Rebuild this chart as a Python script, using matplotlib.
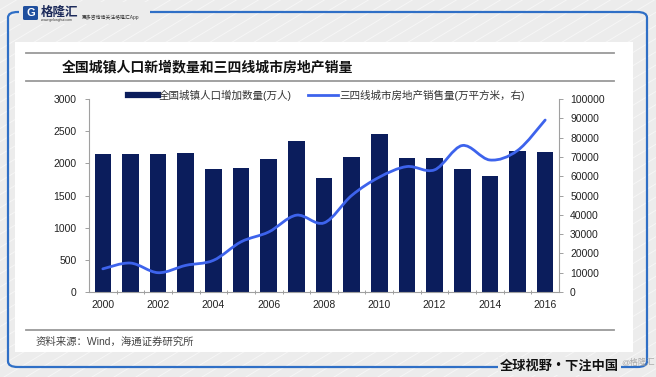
import matplotlib
matplotlib.use('Agg')
import matplotlib.pyplot as plt
import numpy as np
from matplotlib.path import Path
from matplotlib.patches import PathPatch, Rectangle, FancyBboxPatch
from matplotlib.lines import Line2D

plt.rcParams['font.family'] = ['Liberation Sans', 'Noto Sans CJK SC', 'DejaVu Sans']

# ---------------- data ----------------
years = list(range(2000, 2017))
tick_years = years[::2]
urban_pop_increase = [2150, 2150, 2140, 2160, 1910, 1930, 2070, 2350, 1770, 2100,
                      2460, 2090, 2090, 1910, 1800, 2190, 2170]
sales_area = [12000, 15000, 10000, 13800, 16400, 26000, 31100, 39800, 35800, 50000,
              59500, 65000, 63300, 75900, 68400, 73300, 89100]
left_ticks = [0, 500, 1000, 1500, 2000, 2500, 3000]
right_ticks = list(range(0, 100001, 10000))

title = '全国城镇人口新增数量和三四线城市房地产销量'
legend_bar = '全国城镇人口增加数量(万人)'
legend_line = '三四线城市房地产销售量(万平方米，右)'
source = '资料来源：Wind，海通证券研究所'
slogan = '全球视野・下注中国'

BAR_C = '#0b1d5c'
LINE_C = '#3d63ec'
FRAME_C = '#2f6fc6'
BG_C = '#ececec'

W, H = 656, 377
fig = plt.figure(figsize=(6.56, 3.77), dpi=100)
fig.patch.set_facecolor(BG_C)

def fx(x):
    return x / W

def fy(y):
    return 1 - y / H

# background diagonal stripes
for x0 in np.arange(-700, 700, 22):
    fig.add_artist(Line2D([fx(x0), fx(x0 + 377 / 0.6)], [fy(377), fy(0)],
                          color='white', lw=0.7, alpha=0.55, zorder=0))

# frame
frame = FancyBboxPatch((fx(8), fy(367)), fx(647) - fx(8), fy(12) - fy(367),
                       boxstyle='round,pad=0,rounding_size=0.015',
                       transform=fig.transFigure, fill=False,
                       edgecolor=FRAME_C, lw=1.6, zorder=1)
fig.add_artist(frame)

# white panel
fig.add_artist(Rectangle((fx(15), fy(352)), fx(633) - fx(15), fy(42) - fy(352),
                         transform=fig.transFigure, facecolor='white',
                         edgecolor='none', zorder=1))

# header logo area (cover frame)
fig.add_artist(Rectangle((fx(19), fy(24)), fx(150) - fx(19), fy(2) - fy(24),
                         transform=fig.transFigure, facecolor=BG_C,
                         edgecolor='none', zorder=2))
fig.add_artist(FancyBboxPatch((fx(23), fy(20)), fx(15), fy(0) - fy(14),
                              boxstyle='round,pad=0,rounding_size=0.003',
                              transform=fig.transFigure, facecolor='#1f4f9e',
                              edgecolor='none', zorder=3))
fig.text(fx(30.5), fy(13.5), 'G', color='white', fontsize=8, fontweight='bold',
         ha='center', va='center', zorder=4)
fig.text(fx(41), fy(12), '格隆汇', color='#1c2a5a', fontsize=9, fontweight='bold',
         ha='left', va='center', zorder=4, family=['Noto Sans CJK SC'])
fig.text(fx(41), fy(20.5), 'www.gelonghui.com', color='#333', fontsize=2.5,
         ha='left', va='center', zorder=4)
fig.text(fx(82), fy(17), '更多咨询请关注格隆汇App', color='#333', fontsize=3.5,
         ha='left', va='center', zorder=4)

# title and separator lines
for yy in (53, 81, 330):
    fig.add_artist(Line2D([fx(26), fx(614)], [fy(yy), fy(yy)], color='#9a9a9a',
                          lw=1.3, zorder=3))
fig.text(fx(62), fy(67), title, fontsize=10, fontweight='bold', color='#111',
         ha='left', va='center', family=['Noto Sans CJK SC'], zorder=4)
fig.text(fx(36), fy(342), source, fontsize=7.5, color='#444',
         ha='left', va='center', zorder=4)

# slogan at the bottom
fig.text(fx(500), fy(366), slogan, fontsize=9.5, fontweight='bold', color='#111',
         ha='left', va='center', family=['Noto Sans CJK SC'], zorder=5,
         bbox=dict(facecolor=BG_C, edgecolor='none', pad=1.5))
fig.text(fx(621), fy(363), '@格隆汇', fontsize=6, color='#9a9a9a', alpha=0.8,
         ha='left', va='center', zorder=6)

# ---------------- chart ----------------
ax = fig.add_axes([fx(89), fy(292), (559 - 89) / W, (292 - 99) / H])
ax.set_zorder(5)
ax.patch.set_visible(False)
x = np.arange(len(years))
ax.bar(x, urban_pop_increase, width=0.6, color=BAR_C, zorder=2)
ax.set_xlim(-0.5, len(years) - 0.5)
ax.set_ylim(0, 3000)
ax.set_yticks(left_ticks)
ax.set_xticks(x[::2])
ax.set_xticklabels([str(y) for y in tick_years])
ax.set_xticks(x[:-1] + 0.5, minor=True)

ax2 = ax.twinx()
ax2.set_ylim(0, 100000)
ax2.set_yticks(right_ticks)

# smoothed line (Catmull-Rom -> cubic Bezier) through the data points
px = x.astype(float)
py = np.array(sales_area, dtype=float)
n = len(px)
verts = [(px[0], py[0])]
codes = [Path.MOVETO]
for i in range(n - 1):
    p0 = (px[i - 1], py[i - 1]) if i > 0 else (px[i], py[i])
    p1 = (px[i], py[i])
    p2 = (px[i + 1], py[i + 1])
    p3 = (px[i + 2], py[i + 2]) if i + 2 < n else (px[i + 1], py[i + 1])
    c1 = (p1[0] + (p2[0] - p0[0]) / 6, p1[1] + (p2[1] - p0[1]) / 6)
    c2 = (p2[0] - (p3[0] - p1[0]) / 6, p2[1] - (p3[1] - p1[1]) / 6)
    verts += [c1, c2, p2]
    codes += [Path.CURVE4] * 3
ax2.add_patch(PathPatch(Path(verts, codes), facecolor='none', edgecolor=LINE_C,
                        lw=2.0, zorder=3, capstyle='round'))

for a in (ax, ax2):
    a.spines['top'].set_visible(False)
    for s in ('left', 'right', 'bottom'):
        a.spines[s].set_color('#a0a0a0')
        a.spines[s].set_linewidth(0.8)
ax.spines['right'].set_visible(False)
ax2.spines['left'].set_visible(False)
ax2.spines['bottom'].set_visible(False)

ax.tick_params(axis='y', direction='out', length=3, width=0.7, color='#a0a0a0',
               labelsize=7.5, labelcolor='#222', pad=6)
ax2.tick_params(axis='y', direction='out', length=3, width=0.7, color='#a0a0a0',
                labelsize=7.5, labelcolor='#222', pad=5)
ax.tick_params(axis='x', which='major', length=0, labelsize=7.5,
               labelcolor='#222', pad=6)
ax.tick_params(axis='x', which='minor', direction='inout', length=3, width=0.7,
               color='#a0a0a0')

handles = [Line2D([0], [0], color=BAR_C, lw=4.5),
           Line2D([0], [0], color=LINE_C, lw=2)]
leg = ax.legend(handles, [legend_bar, legend_line], ncol=2, loc='center',
                bbox_to_anchor=(0.505, 1.02), frameon=False, fontsize=7.6,
                handlelength=2.8, handletextpad=0.15, columnspacing=1.5)
for t in leg.get_texts():
    t.set_color('#333')

fig.savefig('out.png', dpi=100, facecolor=fig.get_facecolor())
